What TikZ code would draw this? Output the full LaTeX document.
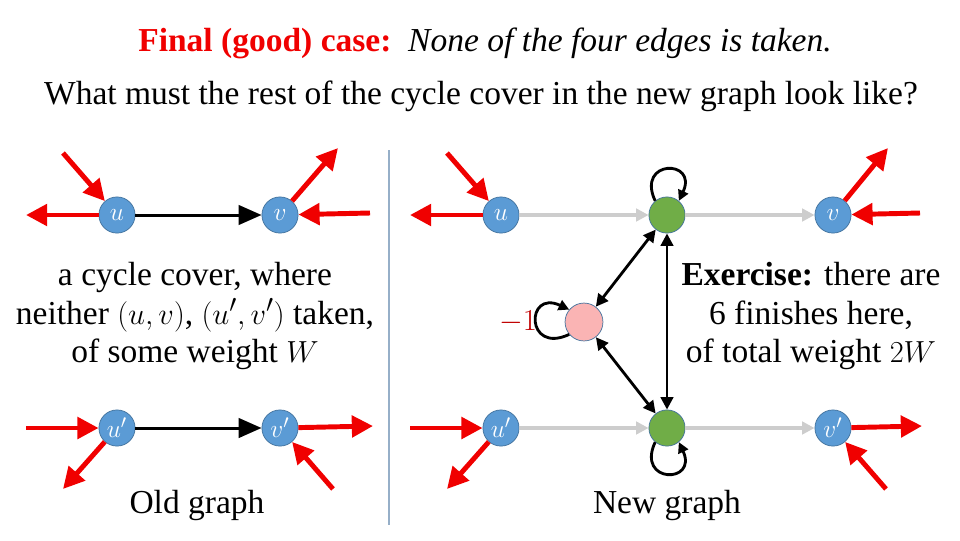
\documentclass[tikz,border=0pt]{standalone}
\usepackage{fontspec}
\setmainfont{Liberation Serif}
\usepackage{tikz}
\usetikzlibrary{arrows.meta, positioning}

\definecolor{vblue}{RGB}{91,155,213}
\definecolor{vborder}{RGB}{65,113,156}
\definecolor{vgreen}{RGB}{112,173,71}
\definecolor{vpink}{RGB}{250,180,180}
\definecolor{hotred}{RGB}{240,0,0}
\definecolor{darkred}{RGB}{192,0,0}
\definecolor{lightgrey}{RGB}{205,205,205}
\definecolor{divider}{RGB}{150,175,200}

\begin{document}
\begin{tikzpicture}[
        x=0.567pt, y=-0.567pt,
        vtx/.style={circle, fill=vblue, draw=vborder, thin, minimum size=20.5pt, inner sep=0pt, text=white, font=\fontsize{15}{15}\selectfont},
        mid/.style={circle, fill=vgreen, draw=vborder, thin, minimum size=20.5pt, inner sep=0pt},
        aux/.style={circle, fill=vpink, draw=vborder, thin, minimum size=21.5pt, inner sep=0pt},
        redarrow/.style={-{Triangle[length=12pt, width=12pt]}, line width=2.8pt, draw=hotred},
        edge/.style={-{Triangle[length=13pt, width=11pt]}, line width=1.7pt, draw=black},
        greyedge/.style={-{Triangle[length=7pt, width=7pt]}, line width=2.2pt, draw=lightgrey},
        dbl/.style={{Triangle[length=7pt, width=7pt]}-{Triangle[length=7pt, width=7pt]}, line width=1.6pt, draw=black},
        selfloop/.style={-{Triangle[length=6pt, width=6pt]}, line width=1.6pt, draw=black, looseness=5},
        txt/.style={font=\fontsize{19}{22}\selectfont, align=center}
    ]
    \useasboundingbox (0,0) rectangle (960,540);

    % Headings
    \node[font=\fontsize{19}{22}\selectfont] (head) at (485,43)
        {\textcolor{hotred}{\textbf{Final (good) case:}}\ \ \textit{None of the four edges is taken.}};
    \node[font=\fontsize{19}{22}\selectfont] (question) at (481,96)
        {What must the rest of the cycle cover in the new graph look like?};

    % Divider
    \coordinate (divtop) at (389,150);
    \coordinate (divbot) at (389,525);
    \draw[divider, line width=0.8pt] (divtop) -- (divbot);

    % Old graph
    \node[vtx] (u) at (117,215) {$u$};
    \node[vtx] (v) at (280,215) {$v$};
    \node[vtx] (up) at (117,428) {$u'$};
    \node[vtx] (vp) at (280,428) {$v'$};
    \draw[edge] (u) -- (v);
    \draw[edge] (up) -- (vp);

    \coordinate (uin) at (63,153);
    \coordinate (uout) at (26,215);
    \coordinate (vout) at (338,148);
    \coordinate (vin) at (370,213);
    \coordinate (upin) at (26,428);
    \coordinate (upout) at (63,489);
    \coordinate (vpout) at (373,426);
    \coordinate (vpin) at (333,489);
    \draw[redarrow] (uin) -- (u);
    \draw[redarrow] (u) -- (uout);
    \draw[redarrow] (v) -- (vout);
    \draw[redarrow] (vin) -- (v);
    \draw[redarrow] (upin) -- (up);
    \draw[redarrow] (up) -- (upout);
    \draw[redarrow] (vp) -- (vpout);
    \draw[redarrow] (vpin) -- (vp);

    \node[txt] (cover) at (195,316)
        {a cycle cover, where\\neither $(u,v)$, $(u',v')$ taken,\\of some weight $W$};
    \node[txt] (old) at (197,505) {Old graph};

    % New graph
    \node[vtx] (nu) at (501,215) {$u$};
    \node[mid] (top) at (667,215) {};
    \node[vtx] (nv) at (833,215) {$v$};
    \node[aux] (pink) at (584,322) {};
    \node[vtx] (nup) at (501,428) {$u'$};
    \node[mid] (bot) at (667,428) {};
    \node[vtx] (nvp) at (833,428) {$v'$};
    \draw[greyedge] (nu) -- (top);
    \draw[greyedge] (top) -- (nv);
    \draw[greyedge] (nup) -- (bot);
    \draw[greyedge] (bot) -- (nvp);

    \draw[dbl] (top) -- (pink);
    \draw[dbl] (pink) -- (bot);
    \draw[dbl] (top) -- (bot);
    \draw[selfloop] (top.130) to[out=115, in=65] (top.50);
    \draw[selfloop] (bot.230) to[out=245, in=295] (bot.310);
    \draw[selfloop] (pink.220) to[out=205, in=155] (pink.140);
    \node[text=darkred, font=\fontsize{19}{21}\selectfont] (minus) at (518,322) {$-1$};

    \coordinate (nuin) at (447,153);
    \coordinate (nuout) at (410,215);
    \coordinate (nvout) at (888,148);
    \coordinate (nvin) at (920,213);
    \coordinate (nupin) at (410,428);
    \coordinate (nupout) at (447,489);
    \coordinate (nvpout) at (922,426);
    \coordinate (nvpin) at (886,489);
    \draw[redarrow] (nuin) -- (nu);
    \draw[redarrow] (nu) -- (nuout);
    \draw[redarrow] (nv) -- (nvout);
    \draw[redarrow] (nvin) -- (nv);
    \draw[redarrow] (nupin) -- (nup);
    \draw[redarrow] (nup) -- (nupout);
    \draw[redarrow] (nvp) -- (nvpout);
    \draw[redarrow] (nvpin) -- (nvp);

    \node[txt] (exercise) at (811,316)
        {\textbf{Exercise:} there are\\6 finishes here,\\of total weight $2W$};
    \node[txt] (new) at (667,505) {New graph};

\end{tikzpicture}
\end{document}
